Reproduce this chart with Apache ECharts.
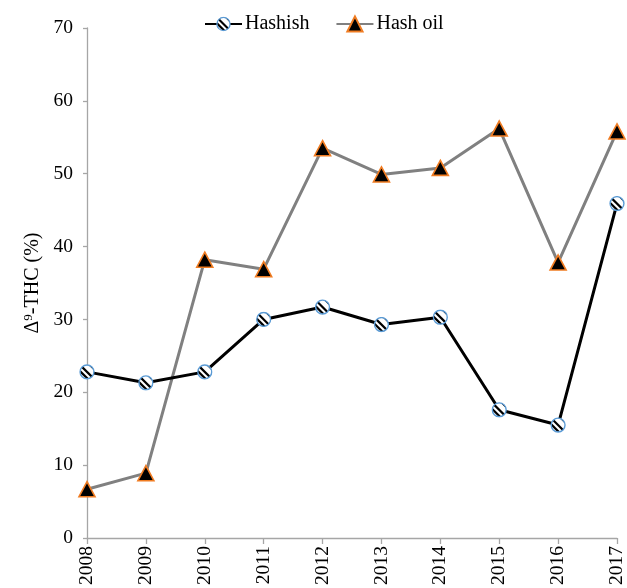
<!DOCTYPE html>
<html>
<head>
<meta charset="utf-8">
<script src="https://cdn.jsdelivr.net/npm/echarts@6/dist/echarts.min.js"></script>
<style>
  html, body { margin: 0; padding: 0; background: #fff; }
  #chart { width: 627px; height: 588px; }
</style>
</head>
<body>
<div id="chart"></div>
<script>
// Years sampled and Δ9-THC content (%) for each product type
const years = ['2008', '2009', '2010', '2011', '2012', '2013', '2014', '2015', '2016', '2017'];
const hashish = [22.8, 21.3, 22.8, 30.0, 31.7, 29.3, 30.3, 17.6, 15.5, 45.9];
const hashOil = [6.7, 8.9, 38.2, 36.9, 53.5, 49.9, 50.8, 56.2, 37.8, 55.8];
const yTicks = { min: 0, max: 70, step: 10 };

const FONT = '"Liberation Serif", "Times New Roman", serif';

// Striped circle marker: white disc, black diagonal bands, blue rim
const stripeSvg =
  "<svg xmlns='http://www.w3.org/2000/svg' width='30' height='30' viewBox='0 0 30 30'>" +
  "<defs><clipPath id='c'><circle cx='15' cy='15' r='13'/></clipPath></defs>" +
  "<circle cx='15' cy='15' r='13' fill='white'/>" +
  "<g clip-path='url(#c)' stroke='black' stroke-width='4.2'>" +
  "<line x1='-14.3' y1='-2.7' x2='25.7' y2='37.3'/>" +
  "<line x1='-5' y1='-5' x2='35' y2='35'/>" +
  "<line x1='4.3' y1='-14.3' x2='44.3' y2='25.7'/>" +
  "</g>" +
  "<circle cx='15' cy='15' r='13' fill='none' stroke='#5b9bd5' stroke-width='2.6'/>" +
  "</svg>";
const stripeSymbol = 'image://data:image/svg+xml;charset=utf-8,' + encodeURIComponent(stripeSvg);

const chart = echarts.init(document.getElementById('chart'), null, { renderer: 'canvas' });

chart.setOption({
  animation: false,
  backgroundColor: '#ffffff',
  textStyle: { fontFamily: FONT },
  grid: { left: 87, right: 9, top: 28, bottom: 49, containLabel: false },
  legend: {
    left: 199,
    top: 9,
    itemWidth: 37,
    itemHeight: 19,
    itemGap: 26,
    textStyle: { fontFamily: FONT, fontSize: 20, color: '#000', padding: [0, 0, 0, -2] },
    data: ['Hashish', 'Hash oil']
  },
  xAxis: {
    type: 'category',
    data: years,
    boundaryGap: false,
    axisLine: { lineStyle: { color: '#a6a6a6', width: 1.3 } },
    axisTick: { show: true, length: 6, alignWithLabel: true, lineStyle: { color: '#a6a6a6', width: 1.3 } },
    axisLabel: { rotate: 90, margin: 8, fontFamily: FONT, fontSize: 19.5, color: '#000' },
    splitLine: { show: false }
  },
  yAxis: {
    type: 'value',
    min: yTicks.min,
    max: yTicks.max,
    interval: yTicks.step,
    name: '{t|Δ}{s|9}{t|-THC (%)}',
    nameLocation: 'middle',
    nameGap: 41,
    nameTextStyle: {
      rich: {
        t: { fontFamily: FONT, fontSize: 20, color: '#000', lineHeight: 22 },
        s: { fontFamily: FONT, fontSize: 13, color: '#000', lineHeight: 22, verticalAlign: 'top', padding: [0, 0, 7, 0] }
      }
    },
    axisLine: { show: true, lineStyle: { color: '#a6a6a6', width: 1.3 } },
    axisTick: { show: true, length: 4, lineStyle: { color: '#a6a6a6', width: 1.3 } },
    axisLabel: { margin: 14, fontFamily: FONT, fontSize: 19.5, color: '#000' },
    splitLine: { show: false }
  },
  series: [
    {
      name: 'Hash oil',
      type: 'line',
      data: hashOil,
      symbol: 'triangle',
      symbolSize: [16, 15],
      lineStyle: { color: '#808080', width: 3 },
      itemStyle: { color: '#000000', borderColor: '#f07c22', borderWidth: 1.6 },
      z: 2
    },
    {
      name: 'Hashish',
      type: 'line',
      data: hashish,
      symbol: stripeSymbol,
      symbolSize: 16,
      lineStyle: { color: '#000000', width: 3 },
      itemStyle: { color: '#000000' },
      z: 3
    }
  ]
});
</script>
</body>
</html>
